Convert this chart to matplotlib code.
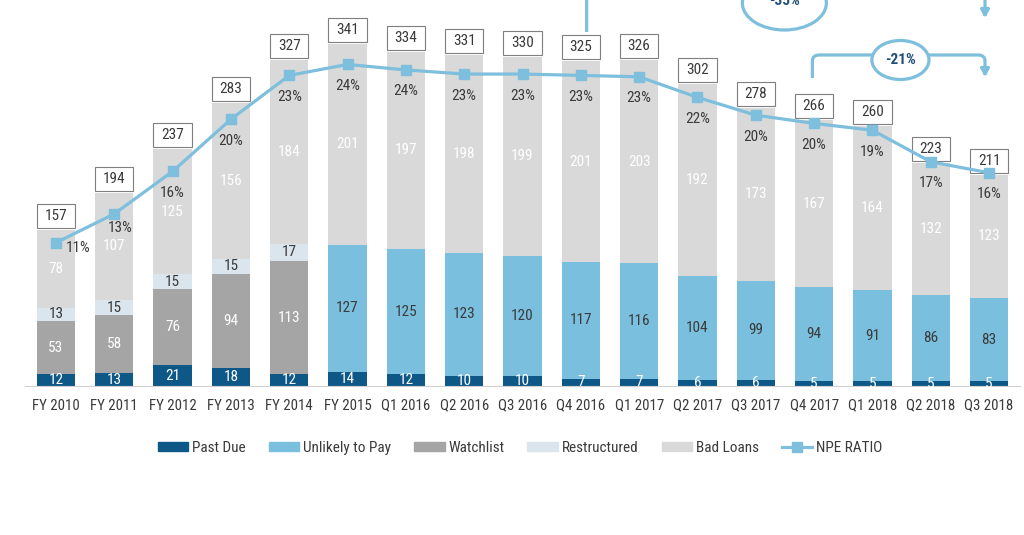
import matplotlib
matplotlib.use("Agg")
import matplotlib.pyplot as plt
from matplotlib.patches import Ellipse, Patch, Rectangle
from matplotlib.lines import Line2D
from matplotlib.path import Path
from matplotlib.patches import PathPatch

plt.rcParams['font.family'] = ['Roboto Condensed', 'Liberation Sans', 'DejaVu Sans']

categories = ["FY 2010", "FY 2011", "FY 2012", "FY 2013", "FY 2014", "FY 2015",
              "Q1 2016", "Q2 2016", "Q3 2016", "Q4 2016", "Q1 2017", "Q2 2017",
              "Q3 2017", "Q4 2017", "Q1 2018", "Q2 2018", "Q3 2018"]
past_due = [12, 13, 21, 18, 12, 14, 12, 10, 10, 7, 7, 6, 6, 5, 5, 5, 5]
unlikely_to_pay = [0, 0, 0, 0, 0, 127, 125, 123, 120, 117, 116, 104, 99, 94, 91, 86, 83]
watchlist = [53, 58, 76, 94, 113, 0, 0, 0, 0, 0, 0, 0, 0, 0, 0, 0, 0]
restructured = [13, 15, 15, 15, 17, 0, 0, 0, 0, 0, 0, 0, 0, 0, 0, 0, 0]
bad_loans = [78, 107, 125, 156, 184, 201, 197, 198, 199, 201, 203, 192, 173, 167, 164, 132, 123]
totals = [157, 194, 237, 283, 327, 341, 334, 331, 330, 325, 326, 302, 278, 266, 260, 223, 211]
npe_ratio = [11.0, 13.1, 16.2, 20.0, 23.2, 24.0, 23.6, 23.3, 23.3, 23.2, 23.1, 21.6, 20.3,
             19.7, 19.2, 16.9, 16.1]
npe_labels = ["11%", "13%", "16%", "20%", "23%", "24%", "24%", "23%", "23%", "23%", "23%",
              "22%", "20%", "20%", "19%", "17%", "16%"]

C_PD = "#0d5887"
C_UTP = "#7abfdd"
C_WL = "#a5a5a5"
C_RS = "#dbe5ed"
C_BL = "#d9d9d9"
C_LINE = "#7dbfdc"
TXT = "#3a3a3a"
FS = 11

fig = plt.figure(figsize=(10.24, 5.35), dpi=100)
ax = fig.add_axes([25 / 1024, 149 / 535, 995 / 1024, 386 / 535])
x = list(range(len(categories)))
w = 0.66

series = [(past_due, C_PD, "Past Due", "white"),
          (unlikely_to_pay, C_UTP, "Unlikely to Pay", TXT),
          (watchlist, C_WL, "Watchlist", "white"),
          (restructured, C_RS, "Restructured", TXT),
          (bad_loans, C_BL, "Bad Loans", "white")]

bottom = [0] * len(x)
for vals, col, name, tcol in series:
    ax.bar(x, vals, w, bottom=bottom, color=col, linewidth=0)
    for i, v in enumerate(vals):
        if v > 0:
            ax.text(i, bottom[i] + v / 2, str(v), ha="center", va="center",
                    color=tcol, fontsize=FS)
    bottom = [b + v for b, v in zip(bottom, vals)]

# total boxes (1 data unit == 1 px on this axis)
for i, t in enumerate(totals):
    ax.add_patch(Rectangle((i - w / 2, bottom[i] + 2), w, 24, fc="white", ec="#7f7f7f",
                           lw=0.8, clip_on=False, zorder=4))
    ax.text(i, bottom[i] + 14, str(t), ha="center", va="center", fontsize=FS,
            color=TXT, zorder=5, clip_on=False)

ax.set_xlim(-0.53, 16.53)
ax.set_ylim(0, 386)
ax.set_xticks(x)
ax.set_xticklabels(categories, fontsize=FS - 0.3, color=TXT)
ax.tick_params(axis="x", length=0, pad=9)
ax.set_yticks([])
for s in ["top", "right", "left"]:
    ax.spines[s].set_visible(False)
ax.spines["bottom"].set_color("#d0d0d0")

ax2 = ax.twinx()
ax2.set_position(ax.get_position())
ax2.set_ylim(0.55, 28.7)
ax2.plot(x, npe_ratio, color=C_LINE, lw=2.3, marker="s", ms=6.5, zorder=5)
ax2.set_yticks([])
for s in ax2.spines.values():
    s.set_visible(False)
for i, (r, lab) in enumerate(zip(npe_ratio, npe_labels)):
    if i == 0:
        ax2.annotate(lab, (i, r), xytext=(16, -4), textcoords="offset points",
                     ha="center", va="center", fontsize=FS, color=TXT,
                     arrowprops=dict(arrowstyle="-", color="#808080", lw=0.8,
                                     shrinkA=2, shrinkB=10))
    elif i == 1:
        ax2.annotate(lab, (i, r), xytext=(4, -10), textcoords="offset points",
                     ha="center", va="center", fontsize=FS, color=TXT)
    else:
        ax2.annotate(lab, (i, r), xytext=(0, -15.5), textcoords="offset points",
                     ha="center", va="center", fontsize=FS, color=TXT)


def bracket(axis, x0, x1, y, yl, yr, r=0.12, rr=6):
    verts = [(x0, yl), (x0, y - rr), (x0, y), (x0 + r, y), (x1 - r, y), (x1, y),
             (x1, y - rr), (x1, yr + 2)]
    codes = [Path.MOVETO, Path.LINETO, Path.CURVE3, Path.CURVE3, Path.LINETO,
             Path.CURVE3, Path.CURVE3, Path.LINETO]
    p = PathPatch(Path(verts, codes), fill=False, ec=C_LINE, lw=2.3, clip_on=False,
                  capstyle="butt")
    axis.add_patch(p)
    axis.annotate("", xy=(x1, yr), xytext=(x1, yr + 8),
                  arrowprops=dict(arrowstyle="-|>,head_width=0.25,head_length=0.45",
                                  color=C_LINE, lw=2.3, shrinkA=0, shrinkB=0),
                  annotation_clip=False)


bracket(ax, 12.97, 15.93, 331, 308, 309)
e = Ellipse((14.48, 326), 0.98, 39, fc="white", ec=C_LINE, lw=2.3, zorder=6, clip_on=False)
ax.add_patch(e)
ax.text(14.48, 326, "-21%", ha="center", va="center", fontsize=FS, color="#1f4e79",
        fontweight="bold", zorder=7)

bracket(ax, 9.1, 15.93, 394, 354, 368)
e2 = Ellipse((12.49, 383), 1.44, 54, fc="white", ec=C_LINE, lw=2.3, zorder=6, clip_on=False)
ax.add_patch(e2)
ax.text(12.49, 385, "-35%", ha="center", va="center", fontsize=FS, color="#1f4e79",
        fontweight="bold", zorder=7, clip_on=False)

handles = [Patch(color=C_PD), Patch(color=C_UTP), Patch(color=C_WL), Patch(color=C_RS),
           Patch(color=C_BL),
           Line2D([0], [0], color=C_LINE, lw=2.3, marker="s", ms=6.5)]
labels = ["Past Due", "Unlikely to Pay", "Watchlist", "Restructured", "Bad Loans", "NPE RATIO"]
fig.legend(handles, labels, loc="center", bbox_to_anchor=(0.508, 1 - 448 / 535), ncol=6,
           frameon=False, fontsize=FS, handlelength=2.0, handleheight=0.45,
           handletextpad=0.25, columnspacing=1.5, labelcolor=TXT)

fig.savefig("out.png", dpi=100)
